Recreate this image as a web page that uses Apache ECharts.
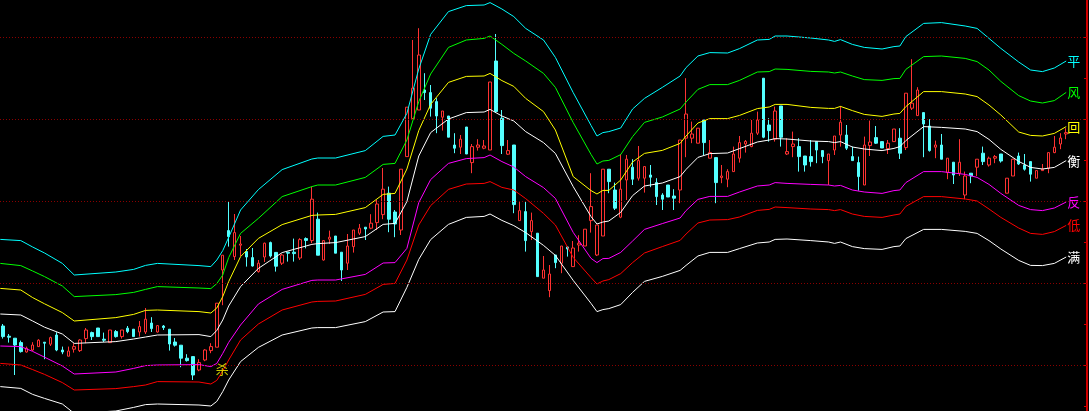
<!DOCTYPE html>
<html><head><meta charset="utf-8">
<script src="https://cdn.jsdelivr.net/npm/echarts@6/dist/echarts.min.js"></script>
<style>html,body{margin:0;padding:0;background:#000;}#c{width:1089px;height:411px;}</style>
</head><body><div id="c"></div>
<script>
// ---- candle data (one entry per bar) ----
const opens = [22.10,21.59,21.49,21.27,20.80,20.90,21.07,21.29,21.19,21.65,20.90,20.59,20.94,20.87,21.47,21.77,22.00,21.44,21.27,21.82,21.57,21.99,21.94,21.80,21.80,22.25,21.80,22.10,21.94,21.30,21.14,20.49,20.57,19.90,20.40,20.87,21.04,24.90,26.87,25.57,26.14,25.82,25.52,24.82,25.55,26.27,25.78,25.24,25.79,25.79,25.50,26.47,26.37,27.44,25.40,26.44,26.60,25.79,25.24,26.07,26.74,27.04,26.99,27.27,27.67,28.74,27.80,26.90,30.57,32.47,32.90,33.90,33.77,33.32,32.54,32.60,31.15,31.04,32.05,30.27,31.04,30.99,30.90,35.35,32.49,30.69,31.15,27.37,27.82,26.82,26.74,24.49,23.87,25.65,25.24,26.05,25.07,26.15,26.10,27.37,25.65,26.60,29.94,28.90,27.54,29.40,30.04,29.49,29.49,29.65,29.27,28.65,29.15,28.60,28.90,31.49,31.49,31.24,32.40,30.49,30.52,29.52,29.44,29.82,30.49,31.20,31.07,31.74,34.49,32.15,31.44,33.10,30.70,31.07,31.07,30.60,30.57,31.32,30.87,30.37,30.90,31.65,31.65,30.57,30.27,29.15,31.12,31.52,31.32,30.97,31.32,31.49,31.02,32.99,32.62,32.77,32.10,31.04,31.15,29.77,30.29,29.74,28.65,29.74,30.04,30.74,30.15,30.49,30.70,28.74,29.60,30.60,30.15,30.32,29.49,29.87,29.99,30.77,31.20,31.70];
const closes = [21.57,21.54,21.15,20.82,20.99,21.15,21.39,21.24,21.52,20.90,20.80,20.85,21.07,21.40,21.90,21.57,21.57,21.39,21.90,21.57,21.90,21.82,21.57,22.07,22.44,21.97,22.12,22.02,21.20,21.14,20.49,20.37,19.65,20.27,20.90,21.07,23.24,25.64,26.57,26.77,26.20,25.55,25.10,25.24,26.24,25.60,25.09,25.65,25.74,25.72,26.42,26.38,28.44,25.64,26.37,26.54,25.74,24.90,26.10,26.90,26.99,26.95,27.24,28.20,28.94,27.44,27.20,29.94,33.04,33.99,35.65,33.77,32.99,32.60,32.85,31.54,30.99,31.44,30.70,31.07,31.15,31.10,34.30,32.82,31.12,30.87,28.17,27.87,26.37,27.37,24.57,24.90,24.70,25.27,26.10,25.95,26.00,26.24,26.94,28.07,27.15,29.94,29.32,27.99,28.94,30.44,29.44,30.37,30.07,29.54,28.57,28.44,28.55,28.49,31.40,32.70,31.70,31.99,31.27,30.77,29.27,29.60,29.82,30.70,31.27,31.33,31.74,32.40,31.54,31.87,32.85,31.54,30.82,31.20,30.57,30.15,30.32,30.90,30.57,30.70,31.60,32.29,30.99,30.37,29.57,31.15,31.30,31.24,31.00,31.24,31.95,30.74,33.74,33.24,33.90,32.20,30.87,31.15,30.44,30.49,29.65,30.29,29.60,29.60,30.44,30.32,30.49,30.57,30.35,29.49,30.44,30.20,29.94,29.69,29.87,29.94,30.77,31.04,31.50,31.77];
const lows = [21.47,21.27,19.65,20.77,20.77,20.85,21.07,20.44,21.10,20.84,20.69,20.59,20.77,20.80,21.24,21.40,21.57,21.30,21.27,21.52,21.47,21.74,21.57,21.57,21.70,21.80,21.77,21.90,20.87,21.07,20.04,20.32,19.40,19.84,20.34,20.74,21.04,23.14,26.07,25.40,25.60,25.07,25.07,24.77,25.30,25.52,24.82,25.15,25.32,25.32,25.40,25.98,26.24,25.64,25.37,26.20,25.74,24.35,24.90,25.77,26.65,26.40,26.94,26.90,27.44,26.79,26.54,26.65,30.57,32.47,32.90,33.40,32.57,31.74,31.87,31.54,30.74,30.70,30.70,29.74,30.87,30.94,30.90,32.77,30.70,30.65,27.74,27.37,25.82,26.40,24.57,24.49,23.54,24.99,24.74,25.57,25.07,25.82,26.10,26.77,25.60,26.60,28.74,27.90,27.49,28.40,29.15,29.37,28.77,29.04,28.15,27.90,28.55,27.90,28.24,30.54,31.24,31.24,30.65,30.49,28.24,29.24,29.04,29.82,30.27,30.77,31.04,31.65,31.49,31.32,31.32,31.07,30.65,30.54,29.82,29.82,30.07,30.24,30.24,29.15,30.65,31.07,30.90,30.37,28.87,29.15,30.60,31.20,31.00,30.70,31.32,30.45,30.90,32.90,32.62,30.54,30.82,30.49,30.44,29.44,29.20,29.60,28.44,29.24,29.60,30.15,30.07,30.24,30.27,28.74,29.60,30.15,29.87,29.32,29.49,29.87,29.74,30.74,30.94,31.44];
const highs = [22.20,21.70,21.49,21.37,21.07,21.29,21.44,21.29,21.57,21.79,21.07,21.07,21.24,21.44,22.00,21.82,22.00,21.77,21.90,21.90,21.90,22.10,21.94,22.35,23.00,22.54,22.15,22.15,21.94,21.50,21.14,20.69,20.57,20.44,20.94,21.24,23.24,25.64,28.30,27.70,26.60,25.95,26.00,25.40,26.27,26.32,25.80,25.70,25.79,26.47,26.49,26.53,29.07,27.77,26.40,26.87,26.60,25.79,26.70,26.90,27.20,27.04,27.69,28.40,30.00,29.07,27.90,29.94,33.04,36.40,36.99,34.74,34.15,33.49,32.85,32.60,31.74,31.65,32.05,31.20,31.44,31.40,34.30,36.70,32.90,31.40,31.15,28.34,28.32,27.77,26.74,25.60,25.15,25.65,26.10,26.10,26.35,26.64,26.94,29.74,27.15,29.94,29.94,29.27,30.70,30.65,30.44,31.10,30.10,30.15,29.49,28.74,29.15,28.94,31.40,34.49,32.32,31.99,32.40,31.40,30.52,30.15,29.94,31.07,31.60,31.40,32.40,32.82,34.49,32.49,33.07,33.10,31.49,31.82,31.49,30.60,31.40,31.32,30.90,30.70,31.60,33.10,32.15,31.07,30.57,31.57,32.37,32.10,31.32,31.40,31.95,31.99,33.74,35.44,34.04,32.77,32.44,31.37,31.70,30.49,30.29,31.44,29.82,29.74,30.44,31.07,30.57,30.65,30.70,29.49,30.44,30.77,30.70,30.32,29.87,30.20,30.77,31.60,31.74,31.99];

// ---- band lines: bar index of each reading and the band values ----
const bandIdx = [-0.45,3,5,7,10,12,19,22,24,26,33,35,36,37,38,40,43,47,52,53,56,61,64,66,68,70,72,75,78,81,82,84,86,88,91,93,96,99,100,101,102,104,106,108,111,114,115,117,119,122,124,127,129,130,132,136,139,140,141,143,145,148,150,151,152,155,158,162,164,166,168,171,173,175,177,179];
const bandPing = [26.43,26.37,26.05,25.75,25.23,24.65,24.80,24.93,25.13,25.23,25.12,25.07,25.40,25.87,26.53,27.90,28.92,29.92,30.45,30.50,30.50,30.87,31.58,31.65,32.73,34.95,36.68,37.82,38.12,38.15,38.27,37.95,37.57,36.98,36.40,35.53,33.77,32.13,31.60,31.77,31.82,32.00,32.95,33.48,34.03,34.60,35.02,35.60,35.77,35.75,35.97,36.40,36.43,36.60,36.60,36.50,36.40,36.33,36.42,36.18,36.03,35.95,36.07,36.10,36.57,37.23,37.27,37.10,36.98,36.48,35.98,35.30,34.90,34.82,35.00,35.35];
const bandFeng = [25.23,25.12,24.85,24.57,24.10,23.57,23.67,23.78,23.93,24.07,24.00,23.97,24.22,24.65,25.52,26.73,27.48,28.57,29.07,29.15,29.15,29.53,30.18,30.23,31.40,33.32,34.70,36.03,36.40,36.48,36.60,36.18,35.73,35.35,34.73,34.03,32.27,30.68,30.20,30.35,30.38,30.67,31.57,32.28,32.55,32.95,33.30,33.93,34.17,34.17,34.38,34.80,34.82,34.95,34.93,34.83,34.80,34.75,34.80,34.60,34.42,34.38,34.47,34.48,34.93,35.57,35.60,35.48,35.32,34.90,34.33,33.62,33.35,33.25,33.37,33.78];
const bandHui = [23.98,23.90,23.52,23.21,22.77,22.35,22.52,22.68,22.88,22.90,22.82,22.75,23.00,23.57,24.32,25.57,26.48,27.17,27.63,27.65,27.68,28.02,28.68,28.73,29.95,31.87,33.18,34.28,34.58,34.60,34.73,34.37,34.08,33.48,32.82,31.90,29.57,28.87,28.70,28.88,28.88,29.40,30.30,30.73,30.88,31.23,31.60,32.25,32.47,32.47,32.63,32.97,33.05,33.18,33.18,33.03,32.98,32.98,33.08,32.87,32.68,32.58,32.70,32.73,33.07,33.82,33.82,33.70,33.57,33.15,32.65,31.80,31.63,31.60,31.73,32.07];
const bandHeng = [22.70,22.65,22.35,22.04,21.70,21.23,21.32,21.45,21.55,21.65,21.67,21.57,21.88,22.40,23.10,24.07,24.98,25.77,26.18,26.22,26.27,26.57,27.18,27.23,28.32,30.60,31.77,32.45,32.77,32.80,32.93,32.60,32.35,31.82,31.27,30.73,29.07,27.57,27.20,27.30,27.35,27.78,28.62,29.10,29.25,29.57,29.93,30.53,30.72,30.75,30.97,31.30,31.40,31.47,31.45,31.35,31.32,31.27,31.32,31.05,30.95,30.87,30.98,31.07,31.37,32.07,32.03,31.95,31.82,31.43,30.93,30.33,30.03,29.95,30.03,30.37];
const bandFan = [21.10,21.07,20.83,20.54,20.10,19.70,19.80,19.98,20.12,20.15,20.17,20.07,20.23,20.73,21.28,22.15,23.20,23.93,24.38,24.40,24.40,24.68,25.25,25.27,25.98,28.27,29.42,30.23,30.47,30.52,30.65,30.32,30.05,29.57,29.02,28.48,26.78,25.48,25.27,25.47,25.48,25.78,26.35,26.93,27.22,27.50,27.87,28.43,28.58,28.58,28.80,29.10,29.15,29.27,29.23,29.18,29.15,29.10,29.13,28.90,28.80,28.73,28.87,28.90,29.27,29.82,29.82,29.68,29.53,29.18,28.73,28.13,27.92,27.87,28.00,28.30];
const bandDi = [20.23,20.15,19.92,19.68,19.27,18.90,18.97,19.07,19.15,19.32,19.30,19.20,19.38,19.85,20.40,21.40,22.20,22.90,23.30,23.33,23.35,23.68,24.18,24.23,25.40,27.15,28.12,28.93,29.20,29.23,29.32,29.03,28.90,28.47,27.73,27.15,25.53,24.52,24.20,24.35,24.42,24.72,25.27,25.75,26.07,26.38,26.70,27.25,27.40,27.42,27.55,27.88,27.93,28.05,28.02,27.95,27.92,27.87,27.92,27.70,27.58,27.53,27.65,27.70,28.08,28.57,28.57,28.45,28.35,27.95,27.53,27.00,26.73,26.68,26.82,27.13];
const bandMan = [19.07,18.98,18.68,18.48,18.20,17.73,17.85,18.03,18.17,18.20,18.15,18.10,18.33,18.82,19.40,20.32,21.03,21.65,22.00,22.02,22.02,22.32,22.80,22.82,24.03,25.43,26.42,27.18,27.53,27.58,27.70,27.38,27.12,26.77,26.13,25.63,24.38,23.23,22.82,22.92,22.97,23.17,23.78,24.33,24.58,24.88,25.13,25.60,25.78,25.78,25.97,26.25,26.30,26.43,26.45,26.37,26.30,26.23,26.30,26.07,25.97,25.93,26.07,26.10,26.47,26.93,26.93,26.83,26.73,26.37,25.95,25.38,25.13,25.12,25.23,25.55];

const bandNames = ['平', '风', '回', '衡', '反', '低', '满'];
const gridLevels = [20.15, 24.25, 28.35, 32.44, 36.54];
const sideTicks = [18.085, 20.135, 22.185, 24.235, 26.285, 28.335, 30.385, 32.435, 34.485, 36.535];
const signalText = '杀';
const signalBar = 36.9;
const signalPrice = 19.95;

// ---- build ----
const nBars = opens.length;
const padBars = 3;
const categories = [];
for (let i = 0; i < nBars + padBars; i++) categories.push(i < nBars ? String(i + 1) : 'pad' + i);
const kData = opens.map((o, i) => [o, closes[i], lows[i], highs[i]]);

const bands = [bandPing, bandFeng, bandHui, bandHeng, bandFan, bandDi, bandMan];
const bandColors = ['#00ffff', '#00ff00', '#ffff00', '#ffffff', '#ff00ff', '#ff0000', '#ffffff'];
const FONT = '"Noto Sans CJK SC", sans-serif';

const series = [{
  type: 'candlestick',
  xAxisIndex: 0, yAxisIndex: 0,
  data: kData,
  barWidth: 3,
  itemStyle: { color: '#000000', color0: '#54ffff', borderColor: '#ff3232', borderColor0: '#54ffff', borderWidth: 1 },
  markLine: {
    silent: true, symbol: 'none', animation: false,
    label: { show: false },
    lineStyle: { color: '#8a0000', type: [1, 2], width: 1 },
    data: gridLevels.map(v => ({ yAxis: v }))
  }
}];
bands.forEach((b, j) => {
  series.push({
    type: 'line', xAxisIndex: 1, yAxisIndex: 0,
    data: bandIdx.map((x, i) => [x, b[i]]),
    showSymbol: false, symbol: 'none',
    lineStyle: { color: bandColors[j], width: 1 },
    endLabel: { show: true, formatter: bandNames[j], color: bandColors[j], fontSize: 13, fontFamily: FONT, distance: 1 },
    silent: true
  });
});
series.push({
  type: 'scatter', xAxisIndex: 1, yAxisIndex: 0,
  data: [[signalBar, signalPrice]],
  symbolSize: 2, itemStyle: { color: 'rgba(0,0,0,0)' },
  label: { show: true, formatter: signalText, position: 'inside', color: '#ffff00', fontSize: 13, fontFamily: FONT },
  silent: true, z: 5
});

const chart = echarts.init(document.getElementById('c'), null, { renderer: 'canvas' });
chart.setOption({
  animation: false,
  backgroundColor: '#000000',
  grid: { left: 0, right: 2, top: 0, bottom: 0, containLabel: false },
  xAxis: [
    { type: 'category', data: categories, boundaryGap: true, show: false },
    { type: 'value', min: -0.5, max: nBars + padBars - 0.5, show: false }
  ],
  yAxis: [
    { type: 'value', min: 17.85, max: 38.4, show: false, splitLine: { show: false } },
    { type: 'value', min: 17.85, max: 38.4, position: 'right', show: true,
      axisLine: { show: true, lineStyle: { color: '#d00000', width: 2 } },
      axisTick: { show: true, inside: true, length: 3, customValues: sideTicks, lineStyle: { color: '#d00000' } },
      axisLabel: { show: false }, splitLine: { show: false } }
  ],
  series: series
});
</script>
</body></html>
